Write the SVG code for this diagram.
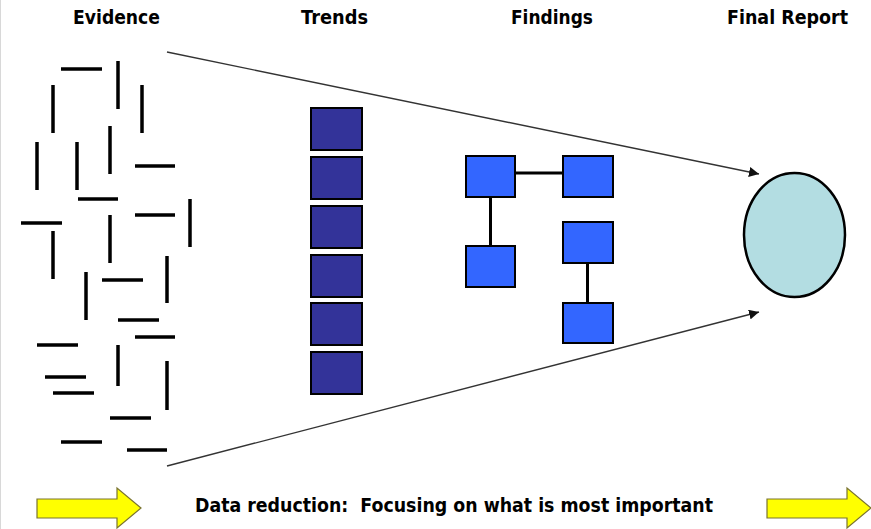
<svg xmlns="http://www.w3.org/2000/svg" width="871" height="529" viewBox="0 0 871 529">
<style>
.hdr{font-family:"DejaVu Sans","Liberation Sans",sans-serif;font-weight:bold;font-size:20px;fill:#000}
.cap{font-family:"DejaVu Sans","Liberation Sans",sans-serif;font-weight:bold;font-size:20px;fill:#000;white-space:pre}
.ev line{stroke:#000;stroke-width:3.5}
.trend{fill:#333399;stroke:#000;stroke-width:2}
.find{fill:#3366ff;stroke:#000;stroke-width:2}
.link{stroke:#000;stroke-width:3;fill:none}
.funnel{stroke:#333;stroke-width:1.4;fill:none}
.yarrow{fill:#ffff00;stroke:#7a7430;stroke-width:1.2}
</style>
<defs>
<marker id="ah" viewBox="0 0 10 10" refX="10" refY="5" markerWidth="10" markerHeight="10" markerUnits="userSpaceOnUse" orient="auto">
<path d="M0,0 L10,5 L0,10 z" fill="#111"/>
</marker>
</defs>
<rect width="871" height="529" fill="#fff"/>
<line x1="0.5" y1="0" x2="0.5" y2="529" stroke="#d8d8d8" stroke-width="1"/>

<g id="headers">
<text class="hdr" x="73" y="24" textLength="87" lengthAdjust="spacingAndGlyphs">Evidence</text>
<text class="hdr" x="301" y="24" textLength="67" lengthAdjust="spacingAndGlyphs">Trends</text>
<text class="hdr" x="511" y="24" textLength="82" lengthAdjust="spacingAndGlyphs">Findings</text>
<text class="hdr" x="727" y="24" textLength="121" lengthAdjust="spacingAndGlyphs">Final Report</text>
</g>

<g id="evidence" class="ev">
<line x1="61" y1="69" x2="102" y2="69"/>
<line x1="118" y1="61" x2="118" y2="109"/>
<line x1="53" y1="85" x2="53" y2="133"/>
<line x1="142" y1="85" x2="142" y2="133"/>
<line x1="37" y1="142" x2="37" y2="190"/>
<line x1="77" y1="142" x2="77" y2="190"/>
<line x1="110" y1="126" x2="110" y2="174"/>
<line x1="135" y1="166" x2="175" y2="166"/>
<line x1="78" y1="199" x2="118" y2="199"/>
<line x1="135" y1="215" x2="175" y2="215"/>
<line x1="190" y1="199" x2="190" y2="247"/>
<line x1="21" y1="223" x2="62" y2="223"/>
<line x1="53" y1="231" x2="53" y2="279"/>
<line x1="110" y1="215" x2="110" y2="263"/>
<line x1="167" y1="256" x2="167" y2="303"/>
<line x1="86" y1="272" x2="86" y2="320"/>
<line x1="102" y1="280" x2="143" y2="280"/>
<line x1="118" y1="320" x2="159" y2="320"/>
<line x1="135" y1="337" x2="175" y2="337"/>
<line x1="37" y1="345" x2="78" y2="345"/>
<line x1="118" y1="345" x2="118" y2="386"/>
<line x1="167" y1="361" x2="167" y2="410"/>
<line x1="45" y1="377" x2="86" y2="377"/>
<line x1="53" y1="393" x2="94" y2="393"/>
<line x1="110" y1="418" x2="151" y2="418"/>
<line x1="61" y1="442" x2="102" y2="442"/>
<line x1="127" y1="450" x2="167" y2="450"/>
</g>

<g id="trends">
<rect class="trend" x="311" y="108" width="51" height="42"/>
<rect class="trend" x="311" y="157" width="51" height="42"/>
<rect class="trend" x="311" y="206" width="51" height="42"/>
<rect class="trend" x="311" y="255" width="51" height="42"/>
<rect class="trend" x="311" y="303" width="51" height="42"/>
<rect class="trend" x="311" y="352" width="51" height="42"/>
</g>

<g id="connectors">
<line class="funnel" x1="167" y1="52" x2="759" y2="174" marker-end="url(#ah)"/>
<line class="funnel" x1="167" y1="466" x2="759" y2="312" marker-end="url(#ah)"/>
<line class="link" x1="515" y1="173" x2="563" y2="173"/>
<line class="link" x1="490.5" y1="197" x2="490.5" y2="246"/>
<line class="link" x1="587.5" y1="263" x2="587.5" y2="303"/>
</g>

<g id="findings">
<rect id="f1" class="find" x="466" y="156" width="49" height="41"/>
<rect id="f2" class="find" x="563" y="156" width="50" height="41"/>
<rect id="f3" class="find" x="466" y="246" width="49" height="41"/>
<rect id="f4" class="find" x="563" y="222" width="50" height="41"/>
<rect id="f5" class="find" x="563" y="303" width="50" height="40"/>
</g>

<g id="final-report">
<ellipse cx="794.5" cy="235" rx="50.5" ry="62" fill="#b3dde2" stroke="#000" stroke-width="2.5"/>
</g>

<g id="bottom">
<path class="yarrow" d="M37,499 H117 V488 L141,508 L117,528 V518 H37 Z"/>
<text class="cap" x="195" y="511.5" textLength="518" lengthAdjust="spacingAndGlyphs">Data reduction:  Focusing on what is most important</text>
<path class="yarrow" d="M767,499 H847 V488 L871,508 L847,528 V518 H767 Z"/>
</g>
</svg>
